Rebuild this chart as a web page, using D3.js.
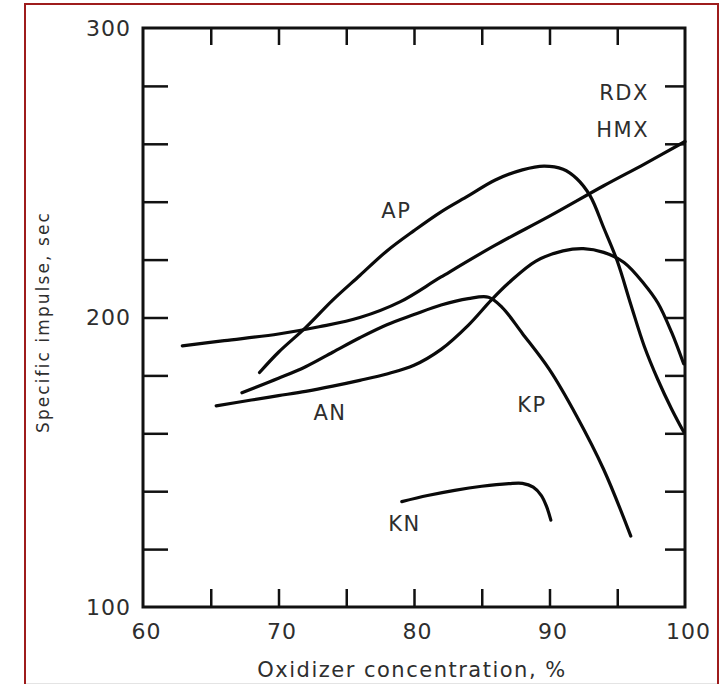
<!DOCTYPE html>
<html>
<head>
<meta charset="utf-8">
<script src="https://cdn.jsdelivr.net/npm/d3@7"></script>
<style>
  body { margin: 0; background: #fff; }
  svg { display: block; }
  .lbl { font-family: 'DejaVu Sans', sans-serif; fill: #2e2e2e; }
</style>
</head>
<body>
<svg id="chart" width="720" height="684"></svg>
<script>
// values (oxidizer %, Isp sec)
var rdxPoints = [[62.9, 190.2], [66, 192], [70, 194.3], [73, 196.8], [76, 200], [79, 205.5], [82, 214], [86, 225], [90, 235], [94, 245.5], [97, 253], [100, 260.8]];
var apPoints = [[68.6, 181], [70, 188], [72, 196.5], [74, 206], [76, 214.5], [78, 223], [80, 230], [82, 236.5], [84, 242], [86, 247.5], [88, 251], [89.6, 252.3], [91, 251.2], [92, 248], [93, 242], [94, 231], [95, 219.5], [96, 204.5], [97, 190], [98, 178.5], [99, 168.5], [99.9, 160.5]];
var kpPoints = [[67.3, 174], [70, 179], [72, 183], [74, 188], [76, 193], [78, 197.5], [80, 201], [82, 204.3], [84, 206.5], [85.5, 207], [86.5, 203.5], [88, 194.5], [90, 182], [92, 166], [94, 147.5], [96, 124.5]];
var anPoints = [[65.4, 169.5], [68, 171.5], [70, 173], [72, 174.5], [74, 176.3], [76, 178.3], [78, 180.5], [80, 183.5], [82, 189], [84, 197.3], [85.7, 206], [87, 212], [89, 219.5], [91, 223], [92.5, 223.8], [94, 222.5], [95.5, 219], [97, 211.5], [98, 205], [99, 195], [99.9, 184]];
var knPoints = [[79.1, 136.4], [81, 138.5], [83, 140.3], [85, 141.7], [87, 142.6], [88, 142.7], [88.8, 141.4], [89.4, 138.5], [89.8, 134.5], [90.1, 130]];

var curveNames = ['RDX', 'HMX', 'AP', 'AN', 'KP', 'KN'];
var labelX = [95.5, 95.4, 78.7, 73.8, 88.7, 79.3];
var labelY = [275.1, 262.3, 234.4, 164.6, 167.4, 126.3];

var xTicks = [65, 70, 75, 80, 85, 90, 95];
var xTickLabels = [60, 70, 80, 90, 100];
var yTicks = [120, 140, 160, 180, 200, 220, 240, 260, 280];
var yTickLabels = [100, 200, 300];

var margin = { top: 28, right: 35, bottom: 77, left: 143 };
var width = 720;
var height = 684;

var svg = d3.select('#chart');

svg.append('rect').attr('width', width).attr('height', height).attr('fill', '#fff');

// scan frame
svg.append('rect')
  .attr('x', 25).attr('y', 4)
  .attr('width', 693).attr('height', 700)
  .attr('fill', 'none')
  .attr('stroke', '#9e1c1c')
  .attr('stroke-width', 2);
svg.append('line')
  .attr('x1', 26).attr('x2', 717)
  .attr('y1', 683.5).attr('y2', 683.5)
  .attr('stroke', '#e4e4e4');

var x = d3.scaleLinear().domain([60, 100]).range([margin.left, width - margin.right]);
var y = d3.scaleLinear().domain([100, 300]).range([height - margin.bottom, margin.top]);

function tickAxis(g) {
  g.select('.domain').remove();
  g.selectAll('.tick line').attr('stroke', '#111').attr('stroke-width', 2.5);
}

// inward ticks on all four sides
svg.append('g')
  .attr('transform', 'translate(0,' + y(100) + ')')
  .call(d3.axisBottom(x).tickValues(xTicks).tickSize(-18).tickSizeOuter(0).tickFormat(''))
  .call(tickAxis);
svg.append('g')
  .attr('transform', 'translate(0,' + y(300) + ')')
  .call(d3.axisTop(x).tickValues(xTicks).tickSize(-17).tickSizeOuter(0).tickFormat(''))
  .call(tickAxis);
svg.append('g')
  .attr('transform', 'translate(' + x(60) + ',0)')
  .call(d3.axisLeft(y).tickValues(yTicks).tickSize(-25).tickSizeOuter(0).tickFormat(''))
  .call(tickAxis);
svg.append('g')
  .attr('transform', 'translate(' + x(100) + ',0)')
  .call(d3.axisRight(y).tickValues(yTicks).tickSize(-20).tickSizeOuter(0).tickFormat(''))
  .call(tickAxis);

// plot box
svg.append('rect')
  .attr('x', x(60)).attr('y', y(300))
  .attr('width', x(100) - x(60)).attr('height', y(100) - y(300))
  .attr('fill', 'none')
  .attr('stroke', '#111')
  .attr('stroke-width', 3);

// tick labels
var xl = svg.append('g')
  .attr('transform', 'translate(3,' + y(100) + ')')
  .call(d3.axisBottom(x).tickValues(xTickLabels).tickSize(0).tickPadding(16).tickFormat(d3.format('d')));
xl.select('.domain').remove();
xl.selectAll('text').attr('class', 'lbl').attr('font-size', 22).attr('letter-spacing', 1).attr('font-family', null);

var yl = svg.append('g')
  .attr('transform', 'translate(' + x(60) + ',0)')
  .call(d3.axisLeft(y).tickValues(yTickLabels).tickSize(0).tickPadding(12).tickFormat(d3.format('d')));
yl.select('.domain').remove();
yl.selectAll('text').attr('class', 'lbl').attr('font-size', 22).attr('letter-spacing', 1).attr('font-family', null);

// axis titles
svg.append('text')
  .attr('class', 'lbl')
  .attr('x', 412).attr('y', 677)
  .attr('text-anchor', 'middle')
  .attr('font-size', 21)
  .attr('letter-spacing', 1.5)
  .text('Oxidizer concentration, %');

svg.append('text')
  .attr('class', 'lbl')
  .attr('transform', 'translate(49,322) rotate(-90)')
  .attr('text-anchor', 'middle')
  .attr('font-size', 17)
  .attr('letter-spacing', 2.1)
  .text('Specific impulse, sec');

// curves
var line = d3.line()
  .x(function (d) { return x(d[0]); })
  .y(function (d) { return y(d[1]); })
  .curve(d3.curveCatmullRom.alpha(0.5));

[rdxPoints, apPoints, kpPoints, anPoints, knPoints].forEach(function (pts) {
  svg.append('path')
    .datum(pts)
    .attr('d', line)
    .attr('fill', 'none')
    .attr('stroke', '#0a0a0a')
    .attr('stroke-width', 3.2)
    .attr('stroke-linecap', 'round')
    .attr('stroke-linejoin', 'round');
});

// curve labels
svg.selectAll('.curveLabel')
  .data(curveNames)
  .enter()
  .append('text')
  .attr('class', 'lbl curveLabel')
  .attr('x', function (d, i) { return x(labelX[i]); })
  .attr('y', function (d, i) { return y(labelY[i]); })
  .attr('text-anchor', 'middle')
  .attr('font-size', 21)
  .attr('letter-spacing', 1.5)
  .text(function (d) { return d; });
</script>
</body>
</html>
